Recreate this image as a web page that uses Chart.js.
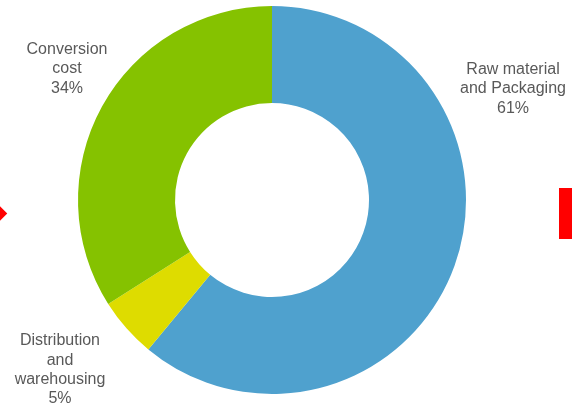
<!DOCTYPE html>
<html>
<head>
<meta charset="utf-8">
<script src="https://cdn.jsdelivr.net/npm/chart.js@4/dist/chart.umd.min.js"></script>
<style>
  html, body { margin: 0; padding: 0; background: #ffffff; overflow: hidden; }
  #wrap { position: relative; width: 572px; height: 409px; }
  #c { position: absolute; left: 0; top: 0; }
  .diamond { position: absolute; left: -6px; top: 208px; width: 11px; height: 11px; background: #ff0000; transform: rotate(45deg); }
  .bar { position: absolute; left: 559px; top: 188px; width: 13px; height: 51px; background: #ff0000; }
</style>
</head>
<body>
<div id="wrap">
  <canvas id="c" width="572" height="409"></canvas>
  <div class="diamond"></div>
  <div class="bar"></div>
</div>
<script>
const categories = ["Raw material and Packaging", "Distribution and warehousing", "Conversion cost"];
const values = [61, 5, 34];
const labelLines = [
  ["Raw material", "and Packaging", "61%"],
  ["Distribution", "and", "warehousing", "5%"],
  ["Conversion", "cost", "34%"]
];
const colors = ["#4FA1CE", "#DEDC00", "#85C200"];

// label anchor offsets from doughnut centre (layout only)
const labelOffsets = [[241, -111], [-212, 170], [-205, -131]];

const labelPlugin = {
  id: 'outerLabels',
  afterDraw(chart) {
    const ctx = chart.ctx;
    const meta = chart.getDatasetMeta(0);
    const arc = meta.data[0];
    const cx = arc.x, cy = arc.y;
    ctx.save();
    ctx.font = '16px "Liberation Sans", Arial, sans-serif';
    ctx.fillStyle = '#595959';
    ctx.textAlign = 'center';
    ctx.textBaseline = 'middle';
    const lh = 19.3;
    labelLines.forEach((lines, i) => {
      const [ox, oy] = labelOffsets[i];
      const x = cx + ox;
      const yTop = cy + oy - (lines.length - 1) * lh / 2;
      lines.forEach((t, k) => ctx.fillText(t, x, yTop + k * lh));
    });
    ctx.restore();
  }
};

new Chart(document.getElementById('c'), {
  type: 'doughnut',
  data: {
    labels: categories,
    datasets: [{
      data: values,
      backgroundColor: colors,
      borderWidth: 0,
      hoverOffset: 0
    }]
  },
  options: {
    responsive: false,
    animation: false,
    cutout: '50%',
    layout: { padding: { left: 78, right: 106, top: 6, bottom: 15 } },
    plugins: {
      legend: { display: false },
      tooltip: { enabled: false }
    }
  },
  plugins: [labelPlugin]
});
</script>
</body>
</html>
